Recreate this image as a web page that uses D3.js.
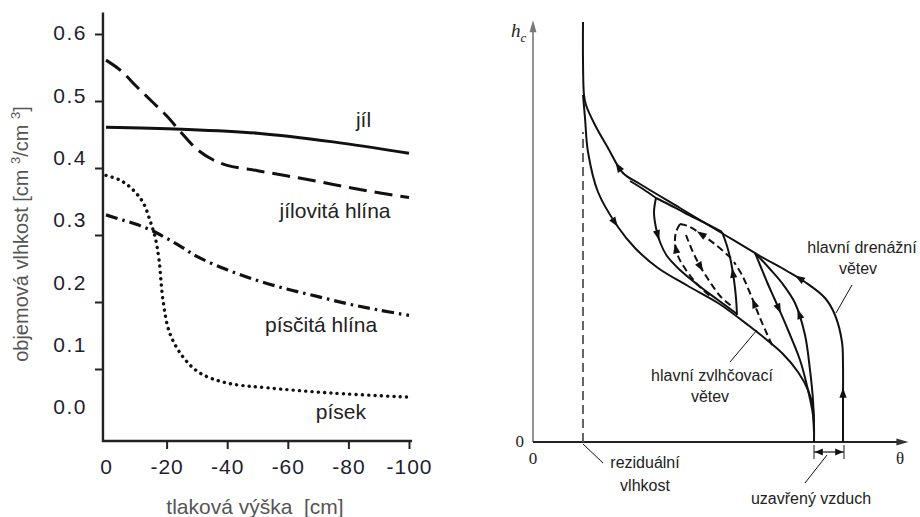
<!DOCTYPE html>
<html><head><meta charset="utf-8">
<script src="https://cdn.jsdelivr.net/npm/d3@7"></script>
<style>body{margin:0;background:#fff}svg{display:block}</style>
</head><body>
<svg id="c" width="920" height="517"></svg>
<script>
// ================= LEFT CHART DATA =================
const yTickValues = [0.6, 0.5, 0.4, 0.3, 0.2, 0.1];
const yTickLabels = ["0.6","0.5","0.4","0.3","0.2","0.1","0.0"];
const yLabelValues = [0.6, 0.5, 0.4, 0.3, 0.2, 0.1, 0.0];
const xTickValues = [-20, -40, -60, -80, -100];
const xLabelValues = [0, -20, -40, -60, -80, -100];

const jilH = [0, -25, -50, -75, -100];
const jilT = [0.461, 0.458, 0.452, 0.439, 0.422];

const jilHlinaH = [0, -5, -10, -15, -20, -25, -30, -35, -40, -50, -60, -70, -80, -90, -100];
const jilHlinaT = [0.561, 0.545, 0.522, 0.500, 0.478, 0.452, 0.428, 0.413, 0.404, 0.396, 0.388, 0.380, 0.371, 0.363, 0.356];

const pisekH = [0, -5, -9, -12.3, -14.5, -16.2, -17.5, -18.8, -21, -25.4, -31, -40, -53, -75, -100];
const pisekT = [0.389, 0.381, 0.367, 0.348, 0.322, 0.297, 0.263, 0.203, 0.154, 0.118, 0.094, 0.079, 0.072, 0.064, 0.058];

const piscH = [0, -5, -10, -15, -20, -25, -30, -40, -50, -60, -70, -80, -90, -100];
const piscT = [0.330, 0.323, 0.316, 0.307, 0.295, 0.282, 0.268, 0.248, 0.232, 0.219, 0.208, 0.197, 0.188, 0.180];

const seriesNames = ["jíl", "jílovitá hlína", "písčitá hlína", "písek"];
// label anchor (h, theta) for each series label
const labelH = [-85, -75.6, -71, -77.5];
const labelT = [0.469, 0.333, 0.163, 0.034];

// ================= RIGHT CHART DATA (schematic units) =================
// theta (arbitrary units), h_c (arbitrary units)
const mainDrying = [[310,0],[310,42],[310,77],[309,100],[302,127],[292,144],[272,160],[254,171],[227,186],[187,210],[147,234],[107,258],[90,269],[75,294],[62,317],[53,337],[51,347],[50,382],[50,420]];
const mainWetting = [[50,347],[52,324],[55,290],[65,250],[85,215],[102,194],[125,174],[155,156],[185,139],[215,117],[249,89],[265,70],[275,52],[280,34],[281,17],[281,0]];
const scanWet1 = [[222,189],[227,177],[234,160],[242,142],[255,112],[267,82],[275,52],[280,27],[281,10]];
const scanDry2 = [[281,10],[280,42],[277,72],[272,107],[262,139],[249,159],[237,173],[224,187]];
const lensTop = [[97,261],[110,253],[123,244]];
const lensLeft = [[123,244],[121,230],[123,214],[127,200],[134,186],[147,172],[165,157],[185,142],[204,128]];
const lensArm = [[123,244],[135,238],[152,229],[172,219],[189,210]];
const lensRight = [[204,127],[203,144],[201,162],[198,180],[194,196],[189,210]];
const dashTop = [[198,184],[183,197],[168,208],[155,216],[147,218]];
const dashLeg = [[147,218],[143,210],[142,199],[145,186],[153,172],[164,158],[177,146]];
const dashA = [[153,207],[159,192],[167,176],[177,160],[188,145],[201,134]];
const dashC = [[239,97],[227,124],[217,149],[209,167],[201,180]];
// arrows: [t along curve, direction +1 forward / -1 backward]
const arrowsMainDrying = [[0.09,1],[0.33,1],[0.72,1]];
const arrowsMainWetting = [[0.30,1]];
const arrowsScanWet1 = [[0.32,1]];
const arrowsScanDry2 = [[0.62,1]];
const arrowsLensLeft = [[0.25,1]];
const arrowsLensRight = [[0.5,1]];
const arrowsDashTop = [[0.62,1]];
const arrowsDashLeg = [[0.3,-1]];
const arrowsDashA = [[0.4,1]];
const arrowsDashC = [[0.5,1]];

// ================= DRAW =================
const svg = d3.select("#c");
const font = "'Liberation Sans', Arial, sans-serif";

// ---- left chart ----
const x = d3.scaleLinear().domain([0, -100]).range([106, 409]);
const y = d3.scaleLinear().domain([0, 0.6]).range([436, 34]);
const yLab = d3.scaleLinear().domain([0, 0.6]).range([407, 33]);
const L = svg.append("g");

// axis lines
L.append("path")
  .attr("d", d3.line()([[x(1), y(0.632)], [x(1), y(-0.0075)], [x(-101), y(-0.0075)]]))
  .attr("fill", "none").attr("stroke", "#222").attr("stroke-width", 2.4);

const yAx = L.append("g").attr("transform", `translate(${x(1)},0)`)
  .call(d3.axisLeft(y).tickValues(yTickValues).tickSize(8).tickFormat(""));
yAx.select(".domain").remove();
yAx.selectAll("line").attr("stroke", "#222").attr("stroke-width", 2);

const yLabAx = L.append("g").attr("transform", `translate(${x(1)},0)`)
  .call(d3.axisLeft(yLab).tickValues(yLabelValues).tickSize(0).tickPadding(16).tickFormat((d,i) => yTickLabels[i]));
yLabAx.select(".domain").remove();
yLabAx.selectAll("text").attr("font-family", font).attr("font-size", 21).attr("letter-spacing", 1.5).attr("fill", "#1e1e2e");

const xAx = L.append("g").attr("transform", `translate(0,${y(-0.0075)})`)
  .call(d3.axisBottom(x).tickValues(xTickValues).tickSize(8).tickFormat(""));
xAx.select(".domain").remove();
xAx.selectAll("line").attr("stroke", "#222").attr("stroke-width", 2);

const xLabAx = L.append("g").attr("transform", `translate(0,${y(-0.0075)})`)
  .call(d3.axisBottom(x).tickValues(xLabelValues).tickSize(0).tickPadding(18).tickFormat(d => d));
xLabAx.select(".domain").remove();
xLabAx.selectAll("text").attr("font-family", font).attr("font-size", 21).attr("letter-spacing", 1).attr("fill", "#1e1e2e");

// axis titles
L.append("text").attr("x", 255).attr("y", 514).attr("text-anchor", "middle")
  .attr("font-family", font).attr("font-size", 21).attr("fill", "#555")
  .attr("xml:space", "preserve").text("tlaková výška  [cm]");
const yt = L.append("text").attr("transform", "translate(28,234) rotate(-90)")
  .attr("text-anchor", "middle").attr("font-family", font).attr("font-size", 20).attr("fill", "#555");
yt.append("tspan").text("objemová vlhkost [cm ");
yt.append("tspan").attr("font-size", 13).attr("dy", -8).text("3");
yt.append("tspan").attr("dy", 8).text("/cm ");
yt.append("tspan").attr("font-size", 13).attr("dy", -8).text("3");
yt.append("tspan").attr("dy", 8).text("]");

const zip = (a, b) => a.map((v, i) => [v, b[i]]);
const styles = [
  {h: jilH, t: jilT, dash: null, w: 3, cap: "butt"},
  {h: jilHlinaH, t: jilHlinaT, dash: "18 8", w: 3, cap: "butt"},
  {h: piscH, t: piscT, dash: "12 5 2.5 5", w: 3.2, cap: "butt"},
  {h: pisekH, t: pisekT, dash: "0.1 6.2", w: 3.4, cap: "round"}
];
const lineLc = d3.line().x(d => x(d[0])).y(d => y(d[1])).curve(d3.curveCatmullRom.alpha(0.5));
styles.forEach(s => {
  L.append("path").attr("d", lineLc(zip(s.h, s.t)))
    .attr("fill", "none").attr("stroke", "#111").attr("stroke-width", s.w)
    .attr("stroke-dasharray", s.dash).attr("stroke-linecap", s.cap);
});
seriesNames.forEach((n, i) => {
  L.append("text").attr("x", x(labelH[i])).attr("y", y(labelT[i])).attr("text-anchor", "middle")
    .attr("dominant-baseline", "middle").attr("font-family", font).attr("font-size", 21)
    .attr("fill", "#222").text(n);
});

// ---- right chart ----
const xr = d3.scaleLinear().domain([0, 375]).range([533, 908]);
const yr = d3.scaleLinear().domain([0, 422]).range([442, 20]);
const R = svg.append("g");

function arrowHead(g, node, t, dir, len, hw, col) {
  const Ltot = node.getTotalLength();
  const s = t * Ltot;
  const a = node.getPointAtLength(Math.max(0, s - 1.5));
  const b = node.getPointAtLength(Math.min(Ltot, s + 1.5));
  const p = node.getPointAtLength(s);
  let ang = Math.atan2(b.y - a.y, b.x - a.x) * 180 / Math.PI;
  if (dir < 0) ang += 180;
  g.append("path").attr("d", `M${len/2},0L${-len/2},${-hw}L${-len/2},${hw}Z`)
    .attr("transform", `translate(${p.x},${p.y}) rotate(${ang})`).attr("fill", col || "#111");
}

// axes
R.append("line").attr("x1", xr(0)).attr("x2", xr(0)).attr("y1", yr(0)).attr("y2", yr(412))
  .attr("stroke", "#777").attr("stroke-width", 1.6);
const axUp = R.append("path").attr("d", d3.line()([[xr(0), yr(0)], [xr(0), yr(422)]])).attr("stroke", "none").attr("fill", "none");
arrowHead(R, axUp.node(), 0.985, 1, 12, 3.5, "#777");
R.append("line").attr("x1", xr(0)).attr("x2", xr(365)).attr("y1", yr(0)).attr("y2", yr(0))
  .attr("stroke", "#222").attr("stroke-width", 2);
const axRight = R.append("path").attr("d", d3.line()([[xr(0), yr(0)], [xr(375), yr(0)]])).attr("stroke", "none").attr("fill", "none");
arrowHead(R, axRight.node(), 0.985, 1, 12, 3.5, "#333");

// residual moisture dashed line
R.append("line").attr("x1", xr(50)).attr("x2", xr(50)).attr("y1", yr(0)).attr("y2", yr(310))
  .attr("stroke", "#555").attr("stroke-width", 1.8).attr("stroke-dasharray", "9 5");

const lineR = d3.line().x(d => xr(d[0])).y(d => yr(d[1])).curve(d3.curveCatmullRom.alpha(0.5));
const curves = [
  {d: mainDrying, dash: null, arrows: arrowsMainDrying},
  {d: mainWetting, dash: null, arrows: arrowsMainWetting},
  {d: scanWet1, dash: null, arrows: arrowsScanWet1},
  {d: scanDry2, dash: null, arrows: arrowsScanDry2},
  {d: lensTop, dash: null, arrows: []},
  {d: lensLeft, dash: null, arrows: arrowsLensLeft},
  {d: lensArm, dash: null, arrows: []},
  {d: lensRight, dash: null, arrows: arrowsLensRight},
  {d: dashTop, dash: "7 4", arrows: arrowsDashTop},
  {d: dashLeg, dash: "7 4", arrows: arrowsDashLeg},
  {d: dashA, dash: "7 4", arrows: arrowsDashA},
  {d: dashC, dash: "7 4", arrows: arrowsDashC}
];
curves.forEach(c => {
  const p = R.append("path").attr("d", lineR(c.d)).attr("fill", "none")
    .attr("stroke", "#111").attr("stroke-width", 2).attr("stroke-dasharray", c.dash);
  c.arrows.forEach(a => arrowHead(R, p.node(), a[0], a[1], 10, 3.6));
});

// entrapped air marker
R.append("line").attr("x1", xr(281)).attr("x2", xr(281)).attr("y1", yr(-3)).attr("y2", yr(-17)).attr("stroke", "#444").attr("stroke-width", 1.2);
R.append("line").attr("x1", xr(311)).attr("x2", xr(311)).attr("y1", yr(-3)).attr("y2", yr(-17)).attr("stroke", "#444").attr("stroke-width", 1.2);
const dbl = R.append("path").attr("d", d3.line()([[xr(281), yr(-10)], [xr(311), yr(-10)]]))
  .attr("stroke", "#111").attr("stroke-width", 1.2).attr("fill", "none");
arrowHead(R, dbl.node(), 0.16, -1, 8, 3.5);
arrowHead(R, dbl.node(), 0.84, 1, 8, 3.5);

// leader lines
const leaders = [
  [[50, -2], [70, -21]],
  [[294, -13], [272, -41]],
  [[319, 157], [303, 129]],
  [[224, 112], [197, 80]]
];
const leaderLine = d3.line().x(d => xr(d[0])).y(d => yr(d[1]));
leaders.forEach(l => R.append("path").attr("d", leaderLine(l))
  .attr("stroke", "#111").attr("stroke-width", 1).attr("fill", "none"));

const rfont = "'Liberation Sans', Arial, sans-serif";
const rTexts = [
  ["reziduální", 645, 468], ["vlhkost", 645, 491],
  ["uzavřený vzduch", 811, 504],
  ["hlavní drenážní", 862, 253], ["větev", 858, 274],
  ["hlavní zvlhčovací", 712, 381], ["větev", 710, 402]
];
rTexts.forEach(t => R.append("text").attr("x", t[1]).attr("y", t[2]).attr("text-anchor", "middle")
  .attr("font-family", rfont).attr("font-size", 16).attr("fill", "#222").text(t[0]));

const serif = "'Liberation Serif', 'DejaVu Serif', serif";
const hc = R.append("text").attr("x", xr(-22)).attr("y", yr(405)).attr("font-family", serif)
  .attr("font-style", "italic").attr("font-size", 19).attr("fill", "#222");
hc.append("tspan").text("h");
hc.append("tspan").attr("font-size", 13).attr("dy", 5).text("c");
R.append("text").attr("x", xr(-9)).attr("y", yr(-5)).attr("text-anchor", "end").attr("font-family", serif).attr("font-size", 17).attr("fill", "#222").text("0");
R.append("text").attr("x", xr(0)).attr("y", yr(-22)).attr("text-anchor", "middle").attr("font-family", serif).attr("font-size", 17).attr("fill", "#222").text("0");
R.append("text").attr("x", xr(367)).attr("y", yr(-22)).attr("text-anchor", "middle").attr("font-family", serif).attr("font-size", 17).attr("fill", "#222").text("θ");
</script>
</body></html>
